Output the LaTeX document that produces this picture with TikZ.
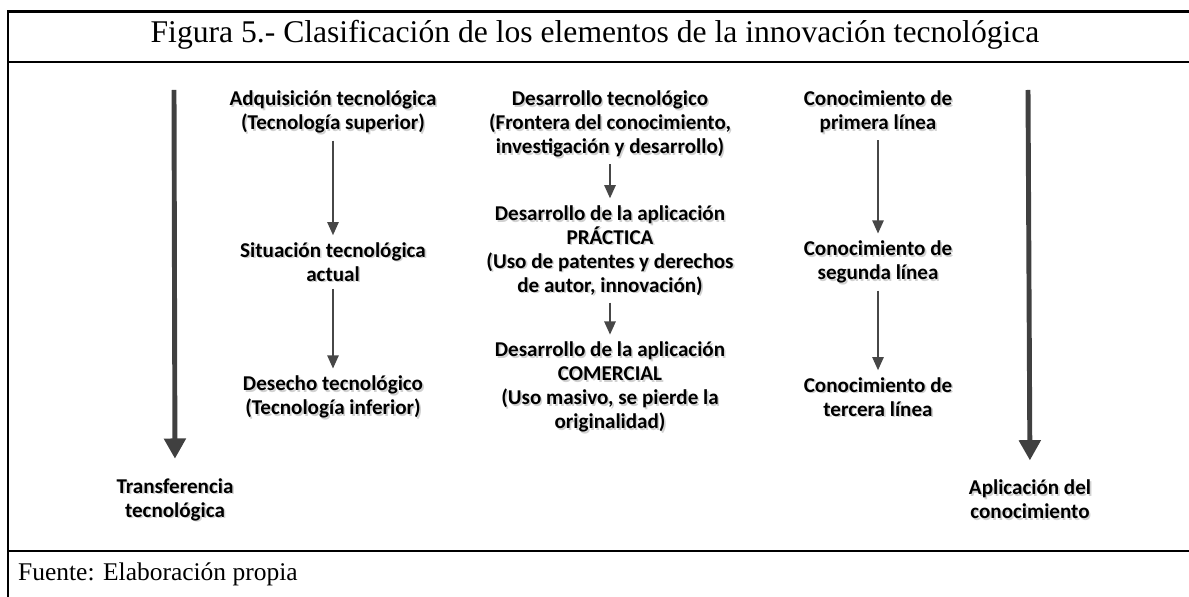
\documentclass[tikz,border=0pt]{standalone}
\usepackage{fontspec}
\setmainfont{Liberation Serif}
\newfontfamily\carlito{Carlito}
\usetikzlibrary{arrows.meta,calc}

% label with the light grey drop shadow of the original
\newcommand\shlabel[3]{%
  \node[lbl, text=black!18] (#1s) at ($(#2)+(1.6,1.6)$) {#3};
  \node[lbl] (#1) at (#2) {#3};}

\begin{document}
\begin{tikzpicture}[x=0.02cm, y=-0.02cm,
  lbl/.style={font=\carlito\bfseries\fontsize{12}{13.6}\selectfont, align=center, inner sep=0pt},
  arr/.style={draw=black!72, line width=0.9pt, -{Triangle[width=6.5pt,length=7.5pt]}},
  bigarr/.style={draw=black!75, line width=2.8pt, -{Triangle[width=12pt,length=11.5pt]}},
  frame/.style={line width=1.7pt}]
\useasboundingbox (0,0) rectangle (1189,597);
% frame
\draw[frame] (8,597) -- (8,12) -- (1189,12);
\draw[frame] (8,62) -- (1189,62);
\draw[frame] (8,551) -- (1189,551);
\node[font=\fontsize{18}{20}\selectfont] (title) at (595,35) {Figura 5.- Clasificación de los elementos de la innovación tecnológica};
\node[font=\fontsize{14.5}{17}\selectfont, anchor=west] (src) at (12,574) {Fuente: Elaboración propia};
% left: transferencia
\coordinate (ltop) at (174,90);
\shlabel{trans}{175,499.5}{Transferencia\\ tecnológica}
\draw[bigarr, shorten >=11pt] (ltop) -- (trans.north);
\shlabel{a1}{333,112}{Adquisición tecnológica\\ (Tecnología superior)}
\shlabel{a2}{333,262}{Situación tecnológica\\ actual}
\shlabel{a3}{333,397}{Desecho tecnológico\\ (Tecnología inferior)}
\draw[arr, shorten <=4pt, shorten >=4pt] (a1) -- (a2);
\draw[arr, shorten <=4pt, shorten >=4pt] (a2) -- (a3);
% middle: desarrollo
\shlabel{b1}{610,124}{Desarrollo tecnológico\\ (Frontera del conocimiento,\\ investigación y desarrollo)}
\shlabel{b2}{610,250.5}{Desarrollo de la aplicación\\ PRÁCTICA\\ (Uso de patentes y derechos\\ de autor, innovación)}
\shlabel{b3}{610,387}{Desarrollo de la aplicación\\ COMERCIAL\\ (Uso masivo, se pierde la\\ originalidad)}
\draw[arr, shorten <=4pt, shorten >=4pt] (b1) -- (b2);
\draw[arr, shorten <=4pt, shorten >=4pt] (b2) -- (b3);
% right: conocimiento
\shlabel{c1}{878,112}{Conocimiento de\\ primera línea}
\shlabel{c2}{878,262}{Conocimiento de\\ segunda línea}
\shlabel{c3}{878,397}{Conocimiento de\\ tercera línea}
\draw[arr, shorten <=4pt, shorten >=4pt] (c1) -- (c2);
\draw[arr, shorten <=4pt, shorten >=4pt] (c2) -- (c3);
\coordinate (rtop) at (1028,90);
\shlabel{apl}{1030,499.5}{Aplicación del\\ conocimiento}
\draw[bigarr, shorten >=11pt] (rtop) -- (apl.north);
\end{tikzpicture}
\end{document}
